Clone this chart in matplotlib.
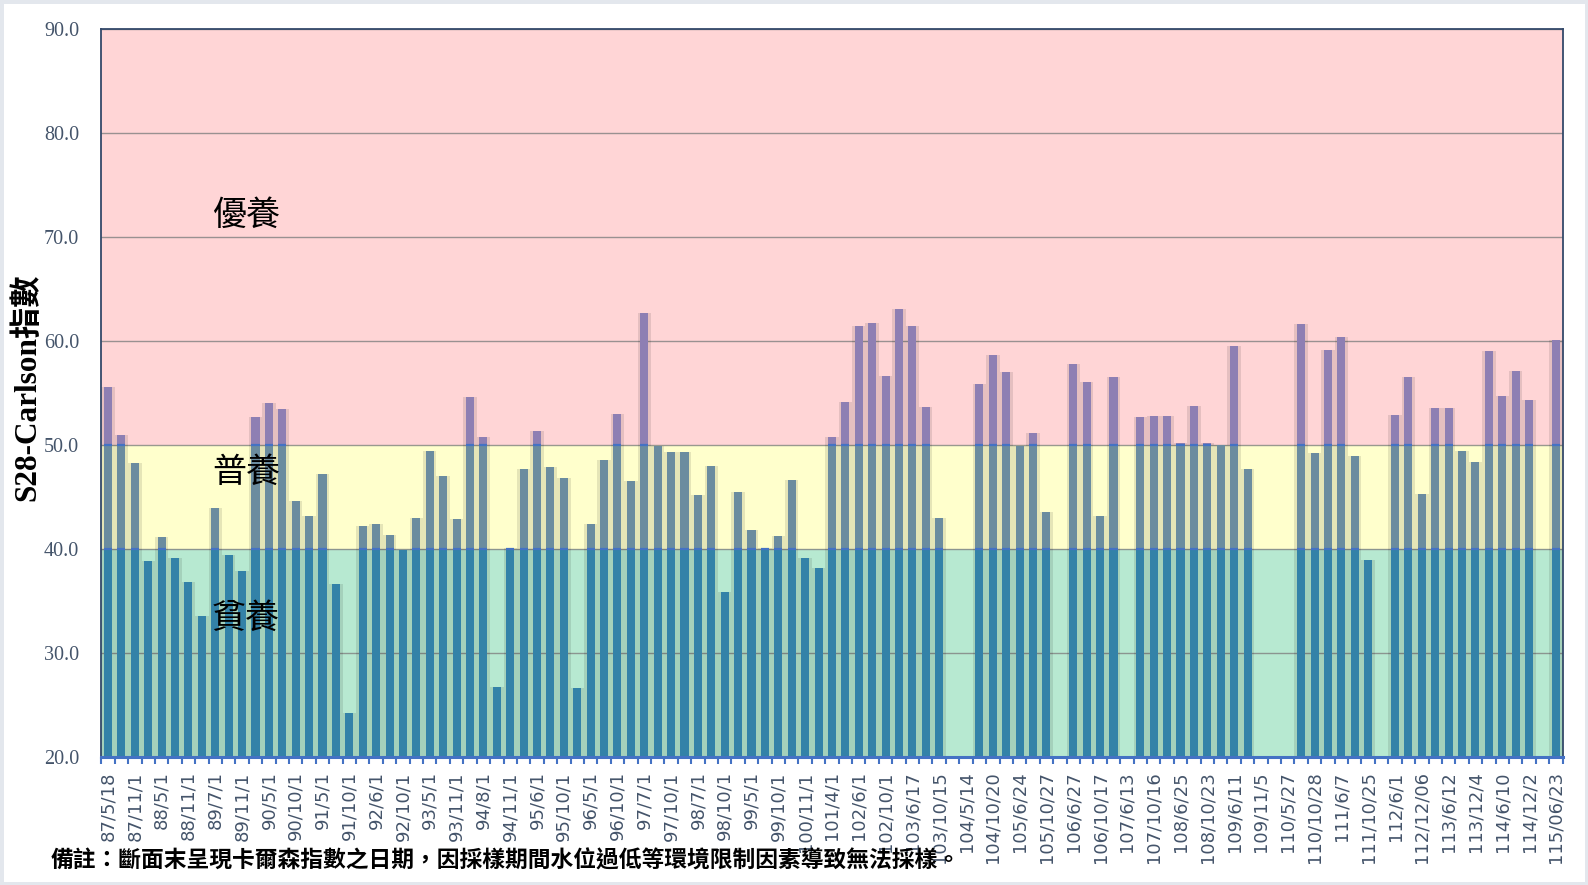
import numpy as np
import matplotlib
matplotlib.use("Agg")
import matplotlib.pyplot as plt
from matplotlib.patches import Rectangle

plt.rcParams['font.family'] = ['DejaVu Sans', 'Noto Sans CJK TC']

# ---------------------------------------------------------------------------
# Data (S28 Carlson index, one value per sampling; NaN = not sampled)
# ---------------------------------------------------------------------------
tick_labels = [
    "87/5/18", "87/11/1", "88/5/1", "88/11/1", "89/7/1", "89/11/1", "90/5/1",
    "90/10/1", "91/5/1", "91/10/1", "92/6/1", "92/10/1", "93/5/1", "93/11/1",
    "94/8/1", "94/11/1", "95/6/1", "95/10/1", "96/5/1", "96/10/1", "97/7/1",
    "97/10/1", "98/7/1", "98/10/1", "99/5/1", "99/10/1", "100/11/1", "101/4/1",
    "102/6/1", "102/10/1", "103/6/17", "103/10/15", "104/5/14", "104/10/20",
    "105/6/24", "105/10/27", "106/6/27", "106/10/17", "107/6/13", "107/10/16",
    "108/6/25", "108/10/23", "109/6/11", "109/11/5", "110/5/27", "110/10/28",
    "111/6/7", "111/10/25", "112/6/1", "112/12/06", "113/6/12", "113/12/4",
    "114/6/10", "114/12/2", "115/06/23",
]

nan = np.nan
carlson = [
    55.6, 51.0, 48.3, 38.9, 41.2, 39.2, 36.9, 33.6, 44.0, 39.5,
    37.9, 52.7, 54.1, 53.5, 44.7, 43.2, 47.3, 36.7, 24.3, 42.3,
    42.4, 41.4, 39.9, 43.0, 49.5, 47.1, 42.9, 54.7, 50.8, 26.8,
    40.1, 47.7, 51.4, 47.9, 46.9, 26.7, 42.4, 48.6, 53.0, 46.6,
    62.7, 49.9, 49.4, 49.4, 45.2, 48.0, 35.9, 45.5, 41.9, 40.1,
    41.3, 46.7, 39.2, 38.2, 50.8, 54.2, 61.5, 61.8, 56.7, 63.1,
    61.5, 53.7, 43.0, nan, nan, 55.9, 58.7, 57.1, 49.9, 51.2,
    43.6, nan, 57.8, 56.1, 43.2, 56.6, nan, 52.7, 52.8, 52.8,
    50.2, 53.8, 50.2, 50.0, 59.6, 47.7, nan, nan, nan, 61.7,
    49.3, 59.2, 60.4, 49.0, 39.0, nan, 52.9, 56.6, 45.3, 53.6,
    53.6, 49.5, 48.4, 59.1, 54.8, 57.2, 54.4, nan, 60.1,
]

zone_bounds = [20, 40, 50, 90]
zone_names = ["貧養", "普養", "優養"]
zone_label_y = [33.4, 47.4, 72.1]
band_colors = ["#B7E9D1", "#FFFFCC", "#FFD5D6"]
bar_colors = ["#3382A8", "#6B8C9F", "#8E7FB3"]

# ---------------------------------------------------------------------------
# Figure
# ---------------------------------------------------------------------------
fig = plt.figure(figsize=(15.88, 8.85), dpi=100)
ax = fig.add_axes([0.0638, 0.1441, 0.9202, 0.8227])

vals = np.array(carlson, dtype=float)
x = np.arange(len(vals))
has = ~np.isnan(vals)
xs, vs = x[has], vals[has]
bar_w = 0.6

# soft shadow behind bars
ax.bar(xs, vs - 20, bottom=20, width=1.0, color="black", alpha=0.10,
       linewidth=0, zorder=2)

for i, (lo, hi) in enumerate(zip(zone_bounds[:-1], zone_bounds[1:])):
    ax.axhspan(lo + (0.08 if i == 0 else 0), hi, color=band_colors[i],
               linewidth=0, zorder=0)
    top = np.clip(vs, lo, hi)
    ax.bar(xs, top - lo, bottom=lo, width=bar_w, color=bar_colors[i],
           linewidth=0, zorder=3)

# segment edges where bars cross the zone boundaries
for b in zone_bounds[1:-1]:
    sel = vs > b
    ax.hlines(np.full(sel.sum(), b), xs[sel] - bar_w / 2, xs[sel] + bar_w / 2,
              color="#4472C4", linewidth=1.6, zorder=4)

for name, ly in zip(zone_names, zone_label_y):
    ax.text(10.3, ly, name, fontsize=24.5, ha="center", va="center",
            family=["Noto Sans CJK TC"], color="black", zorder=6)

# axes styling
ax.set_xlim(-0.5, len(vals) - 0.5)
ax.set_ylim(20, 90)
ax.set_yticks(range(20, 91, 10))
ax.set_yticklabels([f"{v:.1f}" for v in range(20, 91, 10)],
                   family=["Liberation Serif"], fontsize=14.5, color="#44546A")
ax.yaxis.grid(True, color="#808080", linewidth=1, alpha=0.8)
ax.set_axisbelow(True)
ax.tick_params(axis="y", length=0, pad=16)

ax.set_xticks(x[::2])
ax.set_xticklabels(tick_labels, rotation=90, fontsize=13, color="#44546A")
ax.set_xticks(np.arange(-0.5, len(vals), 1), minor=True)
ax.tick_params(axis="x", which="major", length=0, pad=10)
ax.tick_params(axis="x", which="minor", length=5, width=1.5,
               color="#4472C4", direction="out")

for side in ("top", "left", "right"):
    ax.spines[side].set_color("#34496A")
    ax.spines[side].set_linewidth(1.3)
ax.spines["bottom"].set_color("#4472C4")
ax.spines["bottom"].set_linewidth(2.2)
ax.spines["bottom"].set_zorder(5)

fig.text(0.0172, 0.5629, "S28-Carlson指數", rotation=90, ha="center",
         va="center", fontsize=22.5, fontweight="bold",
         family=["Liberation Serif", "Noto Sans CJK TC"])

fig.text(0.0319, 0.0273,
         "備註：斷面末呈現卡爾森指數之日期，因採樣期間水位過低等環境限制因素導致無法採樣。",
         fontsize=16.4, fontweight="bold", va="center",
         family=["Noto Sans CJK TC"])

fig.patches.append(Rectangle((0, 0), 1, 1, transform=fig.transFigure,
                             fill=False, edgecolor="#E3E7ED", linewidth=5))

fig.savefig("out.png", dpi=100)
